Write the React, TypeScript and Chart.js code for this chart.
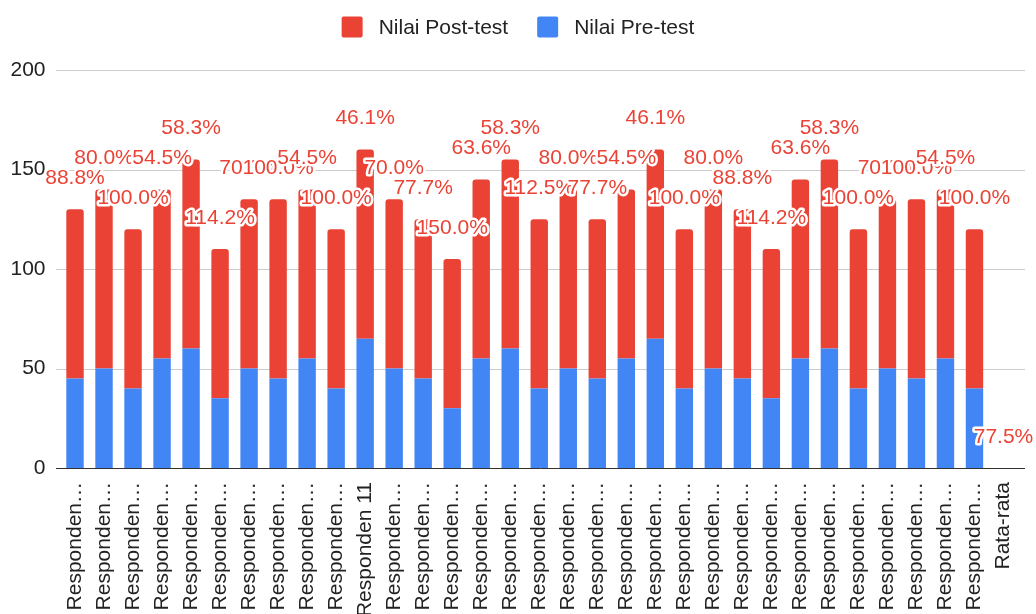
import React, { useEffect, useRef } from "react";
import { Chart, registerables } from "chart.js";

Chart.register(...registerables);

// ---------- data ----------
const categories = [
  "Responden 1", "Responden 2", "Responden 3", "Responden 4", "Responden 5",
  "Responden 6", "Responden 7", "Responden 8", "Responden 9", "Responden 10",
  "Responden 11", "Responden 12", "Responden 13", "Responden 14", "Responden 15",
  "Responden 16", "Responden 17", "Responden 18", "Responden 19", "Responden 20",
  "Responden 21", "Responden 22", "Responden 23", "Responden 24", "Responden 25",
  "Responden 26", "Responden 27", "Responden 28", "Responden 29", "Responden 30",
  "Responden 31", "Responden 32", "Rata-rata",
];

const tickLabels = [
  "Responden…", "Responden…", "Responden…", "Responden…", "Responden…",
  "Responden…", "Responden…", "Responden…", "Responden…", "Responden…",
  "Responden 11", "Responden…", "Responden…", "Responden…", "Responden…",
  "Responden…", "Responden…", "Responden…", "Responden…", "Responden…",
  "Responden…", "Responden…", "Responden…", "Responden…", "Responden…",
  "Responden…", "Responden…", "Responden…", "Responden…", "Responden…",
  "Responden…", "Responden…", "Rata-rata",
];

const preTest = [
  45, 50, 40, 55, 60, 35, 50, 45, 55, 40,
  65, 50, 45, 30, 55, 60, 40, 50, 45, 55,
  65, 40, 50, 45, 35, 55, 60, 40, 50, 45,
  55, 40, null,
];

const postTest = [
  85, 90, 80, 85, 95, 75, 85, 90, 85, 80,
  95, 85, 80, 75, 90, 95, 85, 90, 80, 85,
  95, 80, 90, 85, 75, 90, 95, 80, 85, 90,
  85, 80, null,
];

const gainLabels = [
  "88.8%", "80.0%", "100.0%", "54.5%", "58.3%", "114.2%", "70.0%", "100.0%", "54.5%", "100.0%",
  "46.1%", "70.0%", "77.7%", "150.0%", "63.6%", "58.3%", "112.5%", "80.0%", "77.7%", "54.5%",
  "46.1%", "100.0%", "80.0%", "88.8%", "114.2%", "63.6%", "58.3%", "100.0%", "70.0%", "100.0%",
  "54.5%", "100.0%", "77.5%",
];

const yTicks = [0, 50, 100, 150, 200];

const seriesNames = ["Nilai Pre-test", "Nilai Post-test"];

// ---------- styles ----------
const FONT = '"Liberation Sans", Arial, Helvetica, sans-serif';
const RED = "#EA4335";
const BLUE = "#4285F4";
const TEXT = "#222222";

export default function App() {
  const canvasRef = useRef<HTMLCanvasElement | null>(null);

  useEffect(() => {
    const canvas = canvasRef.current;
    if (!canvas) return;

    const sheetPlugin = {
      id: "sheetDecor",
      beforeDatasetsDraw(chart: any) {
        const { ctx, chartArea, scales } = chart;
        const ys = scales.y;
        ctx.save();
        ctx.lineWidth = 1;
        ctx.strokeStyle = "#cccccc";
        yTicks.forEach((v) => {
          if (v === 0) return;
          const py = Math.round(ys.getPixelForValue(v)) + 0.5;
          ctx.beginPath();
          ctx.moveTo(chartArea.left - 4.5, py);
          ctx.lineTo(chartArea.right + 7, py);
          ctx.stroke();
        });
        ctx.restore();
      },
      afterDatasetsDraw(chart: any) {
        const { ctx, chartArea, scales } = chart;
        const xs = scales.x;
        const ys = scales.y;
        ctx.save();
        // baseline
        const by = Math.round(ys.getPixelForValue(0)) + 0.5;
        ctx.strokeStyle = "#333333";
        ctx.lineWidth = 1;
        ctx.beginPath();
        ctx.moveTo(chartArea.left - 4.5, by);
        ctx.lineTo(chartArea.right + 7, by);
        ctx.stroke();

        // data labels
        ctx.font = `21px ${FONT}`;
        ctx.textAlign = "center";
        ctx.textBaseline = "middle";
        ctx.lineJoin = "round";
        gainLabels.forEach((txt, i) => {
          const total = (preTest[i] ?? 0) + (postTest[i] ?? 0);
          const px = xs.getPixelForValue(i);
          const py = ys.getPixelForValue(total) - 31;
          ctx.strokeStyle = "#ffffff";
          ctx.lineWidth = 5;
          ctx.strokeText(txt, px, py);
          ctx.fillStyle = RED;
          ctx.fillText(txt, px, py);
        });
        ctx.restore();
      },
      afterDraw(chart: any) {
        const { ctx, width } = chart;
        ctx.save();
        ctx.font = `21px ${FONT}`;
        ctx.textBaseline = "middle";
        ctx.textAlign = "left";
        const items = [
          { text: seriesNames[1], color: RED },
          { text: seriesNames[0], color: BLUE },
        ];
        const box = 21;
        const gap = 16;
        const itemGap = 29;
        const widths = items.map((it) => box + gap + ctx.measureText(it.text).width);
        const total = widths.reduce((a, b) => a + b, 0) + itemGap * (items.length - 1);
        let x = (width - total) / 2;
        const cy = 27;
        items.forEach((it, i) => {
          ctx.fillStyle = it.color;
          ctx.beginPath();
          (ctx as any).roundRect(x, cy - box / 2, box, box, 2);
          ctx.fill();
          ctx.fillStyle = TEXT;
          ctx.fillText(it.text, x + box + gap, cy + 1);
          x += widths[i] + itemGap;
        });
        ctx.restore();
      },
    };

    const chart = new Chart(canvas, {
      type: "bar",
      data: {
        labels: categories,
        datasets: [
          {
            label: seriesNames[0],
            data: preTest as any,
            backgroundColor: BLUE,
            borderWidth: 0,
            categoryPercentage: 1,
            barPercentage: 0.6,
          },
          {
            label: seriesNames[1],
            data: postTest as any,
            backgroundColor: RED,
            borderWidth: 0,
            borderRadius: { topLeft: 3, topRight: 3, bottomLeft: 0, bottomRight: 0 },
            borderSkipped: false,
            categoryPercentage: 1,
            barPercentage: 0.6,
          },
        ],
      },
      options: {
        responsive: false,
        animation: false,
        devicePixelRatio: 1,
        layout: { padding: { top: 70, right: 18, bottom: 0, left: 0 } },
        plugins: {
          legend: { display: false },
          tooltip: { enabled: false },
        },
        scales: {
          x: {
            stacked: true,
            offset: true,
            grid: { display: false, drawTicks: false },
            border: { display: false },
            ticks: {
              autoSkip: false,
              minRotation: 90,
              maxRotation: 90,
              padding: 14,
              color: TEXT,
              font: { family: FONT, size: 21 },
              callback: (_v: any, i: number) => tickLabels[i],
            },
            afterFit: (scale: any) => {
              scale.height = 146;
              scale.paddingLeft = 0;
              scale.paddingRight = 0;
            },
          },
          y: {
            stacked: true,
            min: 0,
            max: 200,
            grid: { display: false, drawTicks: false },
            border: { display: false },
            ticks: {
              stepSize: 50,
              padding: 15,
              color: TEXT,
              font: { family: FONT, size: 21 },
            },
            afterFit: (scale: any) => {
              scale.width = 60.5;
            },
          },
        },
      },
      plugins: [sheetPlugin],
    });

    return () => chart.destroy();
  }, []);

  return (
    <div style={{ position: "fixed", left: 0, top: 0, width: 1036, height: 614, background: "#fff" }}>
      <canvas ref={canvasRef} width={1036} height={614} style={{ display: "block" }} />
    </div>
  );
}
